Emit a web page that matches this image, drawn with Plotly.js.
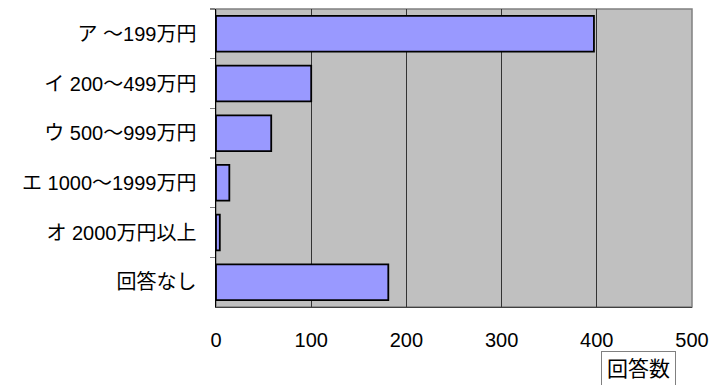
<!DOCTYPE html>
<html><head><meta charset="utf-8">
<script src="https://cdn.plot.ly/plotly-3.0.1.min.js"></script>
<style>body{margin:0;padding:0;background:#fff}</style>
</head><body>
<div id="chart" style="width:719px;height:385px"></div>
<script>
const categories = ["ア ～199万円", "イ 200～499万円", "ウ 500～999万円", "エ 1000～1999万円", "オ 2000万円以上", "回答なし"];
const counts = [397, 100, 58, 14, 4, 181];
const xTicks = [0, 100, 200, 300, 400, 500];
const xLabel = "回答数";

const font = "'Liberation Sans', 'Noto Sans CJK JP', sans-serif";

const data = [{
  type: "bar",
  orientation: "h",
  y: categories,
  x: counts,
  marker: {color: "#9999ff", line: {color: "#000000", width: 1.8}},
  width: 0.72,
  hoverinfo: "none"
}];

const layout = {
  width: 719, height: 385,
  margin: {l: 216, r: 27, t: 9, b: 78, pad: 0},
  paper_bgcolor: "#ffffff",
  plot_bgcolor: "#c0c0c0",
  font: {family: font, size: 20, color: "#000000"},
  showlegend: false,
  bargap: 0.28,
  xaxis: {
    range: [0, 500],
    tickvals: xTicks,
    ticktext: xTicks.map(String),
    showgrid: true, gridcolor: "#333333", gridwidth: 1.2,
    zeroline: false,
    showline: true, linecolor: "#404040", linewidth: 1.2,
    ticks: "", ticklabelstandoff: 15,
    tickfont: {family: font, size: 20, color: "#000"},
    fixedrange: true
  },
  yaxis: {
    type: "category",
    autorange: "reversed",
    showgrid: false, zeroline: false,
    showline: true, linecolor: "#000000", linewidth: 1.5,
    ticks: "outside", tickson: "boundaries", ticklen: 5, tickcolor: "#808080", tickwidth: 1.5,
    ticklabelstandoff: 14,
    tickfont: {family: font, size: 20, color: "#000"},
    fixedrange: true
  },
  shapes: [{
    type: "rect", xref: "paper", yref: "paper", x0: 0, x1: 1, y0: 0, y1: 1,
    line: {color: "#808080", width: 1.5}, fillcolor: "rgba(0,0,0,0)", layer: "below"
  }],
  annotations: [{
    text: xLabel, xref: "paper", yref: "paper",
    x: 0.888, y: -0.148, xanchor: "center", yanchor: "top",
    showarrow: false,
    font: {family: font, size: 21, color: "#000"},
    bordercolor: "#808080", borderwidth: 1, borderpad: 5, bgcolor: "#ffffff"
  }]
};

Plotly.newPlot("chart", data, layout, {displayModeBar: false, staticPlot: true});
</script>
</body></html>
